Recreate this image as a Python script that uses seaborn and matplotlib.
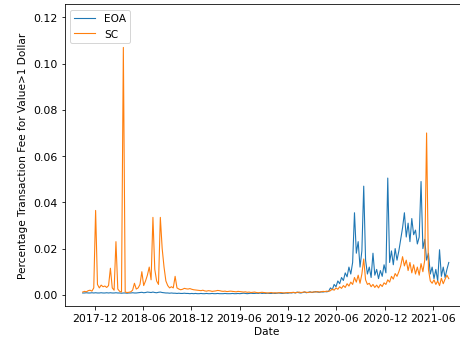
import matplotlib
matplotlib.use("Agg")
import matplotlib.pyplot as plt
import matplotlib.dates as mdates
import numpy as np
import pandas as pd
import seaborn as sns

# Weekly series starting 2017-10-15
start_date = "2017-10-15"

sc_values = (
    [0.0012, 0.0015, 0.0013, 0.0018, 0.0020, 0.0016, 0.0030]
    + [0.0365, 0.0045]
    + [0.0030, 0.0042, 0.0035, 0.0038, 0.0032, 0.0040]
    + [0.0115, 0.0030, 0.0020]
    + [0.0230, 0.0025, 0.0015, 0.0012]
    + [0.1070, 0.0012, 0.0010, 0.0011, 0.0013, 0.0020]
    + [0.0050, 0.0025, 0.0030, 0.0045]
    + [0.0100, 0.0040, 0.0060, 0.0085, 0.0120, 0.0065]
    + [0.0335, 0.0110, 0.0060, 0.0045]
    + [0.0335, 0.0200, 0.0120, 0.0060]
    + [0.0040, 0.0030, 0.0035, 0.0030, 0.0080]
    + [0.0030, 0.0025, 0.0022, 0.0024, 0.0028, 0.0026, 0.0025, 0.0027, 0.0024, 0.0022]
    + [0.0021, 0.0020, 0.0019, 0.0018, 0.0020, 0.0017, 0.0016, 0.0018, 0.0017, 0.0015,
       0.0016, 0.0017, 0.0019, 0.0018, 0.0016, 0.0015, 0.0016, 0.0014, 0.0015, 0.0016,
       0.0015, 0.0014, 0.0013, 0.0015, 0.0014]
    + [0.0013, 0.0012, 0.0013, 0.0011, 0.0012, 0.0010, 0.0011, 0.0012, 0.0010, 0.0009,
       0.0010, 0.0011, 0.0010, 0.0009, 0.0008, 0.0009, 0.0010, 0.0008, 0.0009, 0.0008,
       0.0009, 0.0010, 0.0009, 0.0008, 0.0009, 0.0010]
    + [0.0009, 0.0010, 0.0011, 0.0009, 0.0010, 0.0012, 0.0010, 0.0011, 0.0013, 0.0011,
       0.0010, 0.0012, 0.0011, 0.0013, 0.0012, 0.0014, 0.0012, 0.0013, 0.0015, 0.0014,
       0.0016, 0.0015]
    + [0.0018, 0.0025, 0.0020, 0.0030, 0.0024, 0.0035, 0.0028, 0.0040, 0.0032, 0.0048,
       0.0038, 0.0055, 0.0045]
    + [0.0075, 0.0055, 0.0085, 0.0050, 0.0090]
    + [0.0155, 0.0065, 0.0045, 0.0050, 0.0035, 0.0045, 0.0032, 0.0042, 0.0030, 0.0045,
       0.0036, 0.0052, 0.0045]
    + [0.0065, 0.0055, 0.0080, 0.0068, 0.0092, 0.0080, 0.0100]
    + [0.0125, 0.0165, 0.0125, 0.0150]
    + [0.0105, 0.0140, 0.0095, 0.0130, 0.0090, 0.0120, 0.0085]
    + [0.0135, 0.0100, 0.0150, 0.0700]
    + [0.0110, 0.0060, 0.0050, 0.0065, 0.0045, 0.0060, 0.0040, 0.0072, 0.0048, 0.0068,
       0.0085, 0.0070]
)

eoa_values = (
    [0.0008, 0.0008, 0.0009, 0.0008, 0.0008, 0.0009, 0.0008, 0.0009, 0.0008, 0.0008,
     0.0009, 0.0008, 0.0008, 0.0009, 0.0008, 0.0009, 0.0008, 0.0008, 0.0009, 0.0008,
     0.0008, 0.0007, 0.0008, 0.0008, 0.0007, 0.0008, 0.0008, 0.0009, 0.0008, 0.0008,
     0.0009, 0.0010, 0.0011, 0.0009, 0.0010, 0.0012, 0.0011, 0.0010, 0.0012, 0.0010,
     0.0009, 0.0011, 0.0012, 0.0010, 0.0009, 0.0008, 0.0008, 0.0007, 0.0008, 0.0007]
    + [0.0007, 0.0006, 0.0007, 0.0006, 0.0006, 0.0007, 0.0006, 0.0006, 0.0005, 0.0006,
       0.0005, 0.0006, 0.0005, 0.0005, 0.0006, 0.0005, 0.0005, 0.0006, 0.0005, 0.0005,
       0.0006, 0.0005, 0.0005, 0.0006, 0.0005, 0.0005, 0.0005, 0.0006, 0.0005, 0.0005]
    + [0.0005, 0.0006, 0.0005, 0.0005, 0.0006, 0.0005, 0.0006, 0.0007, 0.0006, 0.0005,
       0.0006, 0.0007, 0.0006, 0.0006, 0.0007, 0.0006, 0.0008, 0.0006, 0.0007, 0.0006,
       0.0007, 0.0006, 0.0006, 0.0007, 0.0006, 0.0007, 0.0008, 0.0007, 0.0006, 0.0007]
    + [0.0008, 0.0007, 0.0009, 0.0008, 0.0010, 0.0008, 0.0012, 0.0009, 0.0008, 0.0010,
       0.0012, 0.0009, 0.0011, 0.0013, 0.0010, 0.0012, 0.0014, 0.0012, 0.0011, 0.0013,
       0.0012, 0.0014, 0.0013, 0.0015]
    + [0.0030, 0.0022, 0.0045, 0.0035, 0.0060, 0.0048, 0.0075, 0.0062, 0.0095, 0.0078,
       0.0120, 0.0090, 0.0140]
    + [0.0355, 0.0180, 0.0230, 0.0120, 0.0190]
    + [0.0470, 0.0150, 0.0090, 0.0120, 0.0075, 0.0180, 0.0085, 0.0110, 0.0070, 0.0105,
       0.0080, 0.0130, 0.0095]
    + [0.0505, 0.0140, 0.0190, 0.0130, 0.0200, 0.0150, 0.0190]
    + [0.0240, 0.0290, 0.0355, 0.0250, 0.0310, 0.0230, 0.0330, 0.0260, 0.0280, 0.0220,
       0.0250]
    + [0.0490, 0.0200, 0.0240, 0.0150]
    + [0.0180, 0.0090, 0.0120, 0.0070, 0.0110, 0.0060, 0.0195, 0.0080, 0.0120, 0.0075,
       0.0110, 0.0140]
)

series_names = ["EOA", "SC"]

eoa_dates = pd.date_range(start_date, periods=len(eoa_values), freq="7D")
sc_dates = pd.date_range(start_date, periods=len(sc_values), freq="7D")
df_eoa = pd.DataFrame({"Date": eoa_dates, "Fee": eoa_values})
df_sc = pd.DataFrame({"Date": sc_dates, "Fee": sc_values})

fig = plt.figure(figsize=(6.4, 4.8), dpi=72)
ax = fig.add_axes([65 / 461, 39 / 345, 403 / 461, 301 / 345])

sns.lineplot(data=df_eoa, x="Date", y="Fee", ax=ax, label=series_names[0],
             color="#1f77b4", linewidth=1.1)
sns.lineplot(data=df_sc, x="Date", y="Fee", ax=ax, label=series_names[1],
             color="#ff7f0e", linewidth=1.1)

ax.set_xlim(pd.Timestamp("2017-08-09"), pd.Timestamp("2021-10-12"))
ax.set_ylim(-0.0048, 0.1256)
ax.set_yticks([0.00, 0.02, 0.04, 0.06, 0.08, 0.10, 0.12])
ax.xaxis.set_major_locator(mdates.MonthLocator(bymonth=[6, 12]))
ax.xaxis.set_major_formatter(mdates.DateFormatter("%Y-%m"))
ax.tick_params(axis="both", labelsize=11)
ax.set_xlabel("Date", fontsize=10.5, labelpad=3)
ax.set_ylabel("Percentage Transaction Fee for Value>1 Dollar", fontsize=10.5, labelpad=6)
ax.legend(loc="upper left", fontsize=10.5)

fig.savefig("out.png", dpi=72)
